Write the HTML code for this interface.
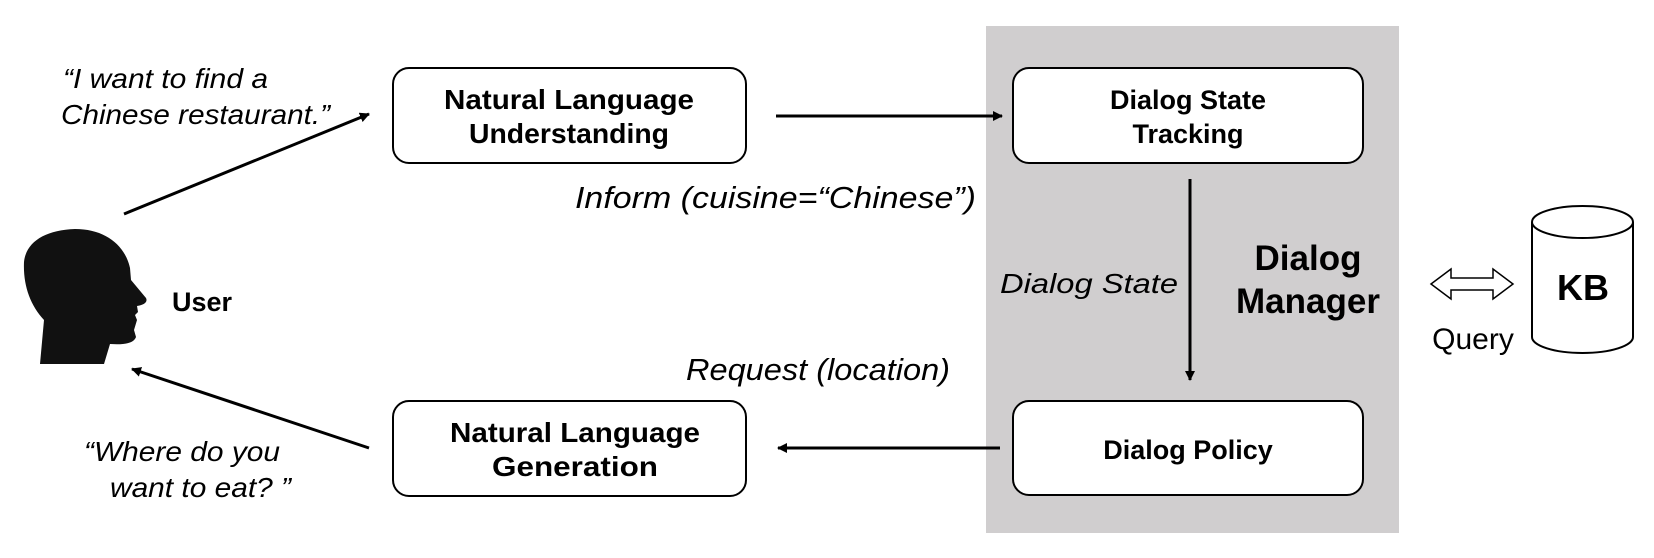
<!DOCTYPE html>
<html><head><meta charset="utf-8"><style>
html,body{margin:0;padding:0;background:#fff;}
svg{display:block;}
text{font-family:"Liberation Sans",Arial,sans-serif;fill:#000;}
.b{font-weight:bold;}
.i{font-style:italic;}
</style></head><body>
<svg width="1654" height="558" viewBox="0 0 1654 558" xmlns="http://www.w3.org/2000/svg">
<defs>
<marker id="ah" markerWidth="10" markerHeight="10" refX="9" refY="5" orient="auto" markerUnits="userSpaceOnUse">
<path d="M0,0 L10,5 L0,10 z" fill="#000"/>
</marker>
</defs>
<rect x="986" y="26" width="413" height="507" fill="#d0cecf"/>
<rect x="393" y="68" width="353" height="95" rx="16" fill="#fff" stroke="#000" stroke-width="2"/>
<rect x="393" y="401" width="353" height="95" rx="16" fill="#fff" stroke="#000" stroke-width="2"/>
<rect x="1013" y="68" width="350" height="95" rx="16" fill="#fff" stroke="#000" stroke-width="2"/>
<rect x="1013" y="401" width="350" height="94" rx="16" fill="#fff" stroke="#000" stroke-width="2"/>
<text class="b" x="569" y="109" font-size="28" text-anchor="middle" textLength="250" lengthAdjust="spacingAndGlyphs">Natural Language</text>
<text class="b" x="569" y="143" font-size="28" text-anchor="middle" textLength="200" lengthAdjust="spacingAndGlyphs">Understanding</text>
<text class="b" x="575" y="442" font-size="28" text-anchor="middle" textLength="250" lengthAdjust="spacingAndGlyphs">Natural Language</text>
<text class="b" x="575" y="476" font-size="28" text-anchor="middle" textLength="166" lengthAdjust="spacingAndGlyphs">Generation</text>
<text class="b" x="1188" y="109" font-size="27" text-anchor="middle">Dialog State</text>
<text class="b" x="1188" y="143" font-size="27" text-anchor="middle">Tracking</text>
<text class="b" x="1188" y="459" font-size="27" text-anchor="middle">Dialog Policy</text>
<text class="b" x="1308" y="270" font-size="35" text-anchor="middle">Dialog</text>
<text class="b" x="1308" y="313" font-size="35" text-anchor="middle">Manager</text>
<line x1="776" y1="116" x2="1002" y2="116" stroke="#000" stroke-width="3" marker-end="url(#ah)"/>
<line x1="1000" y1="448" x2="778" y2="448" stroke="#000" stroke-width="3" marker-end="url(#ah)"/>
<line x1="1190" y1="179" x2="1190" y2="380" stroke="#000" stroke-width="3" marker-end="url(#ah)"/>
<line x1="124" y1="214" x2="369" y2="114" stroke="#000" stroke-width="3" marker-end="url(#ah)"/>
<line x1="369" y1="448" x2="132" y2="369" stroke="#000" stroke-width="3" marker-end="url(#ah)"/>
<text class="i" x="575" y="208" font-size="31" textLength="401" lengthAdjust="spacingAndGlyphs">Inform (cuisine=“Chinese”)</text>
<text class="i" x="686" y="380" font-size="31" textLength="264" lengthAdjust="spacingAndGlyphs">Request (location)</text>
<text class="i" x="1000" y="293" font-size="28" textLength="178" lengthAdjust="spacingAndGlyphs">Dialog State</text>
<text class="i" x="63" y="88" font-size="28" textLength="205" lengthAdjust="spacingAndGlyphs">“I want to find a</text>
<text class="i" x="61" y="124" font-size="28" textLength="269" lengthAdjust="spacingAndGlyphs">Chinese restaurant.”</text>
<text class="i" x="84" y="461" font-size="28" textLength="196" lengthAdjust="spacingAndGlyphs">“Where do you</text>
<text class="i" x="110" y="497" font-size="28" textLength="181" lengthAdjust="spacingAndGlyphs">want to eat? ”</text>
<text class="b" x="172" y="311" font-size="27">User</text>
<path d="M40,364 L44,320 C30,305 23,285 24,262 C26,242 45,230 75,229 C105,229 125,245 130,268 L131,280 L146,298 C148,302 144,305 137,306 L138,312 L135,315 L137,320 L134,330 L136,337 C134,343 125,345 110,344 L104,364 Z" fill="#111"/>
<path d="M1431,284 L1451,269 L1451,278 L1493,278 L1493,269 L1513,284 L1493,299 L1493,290 L1451,290 L1451,299 Z" fill="#fff" stroke="#000" stroke-width="1.5"/>
<text x="1473" y="349" font-size="30" text-anchor="middle">Query</text>
<path d="M1532,222 L1532,337 A50.5,16 0 0 0 1633,337 L1633,222" fill="#fff" stroke="#000" stroke-width="2"/>
<ellipse cx="1582.5" cy="222" rx="50.5" ry="16" fill="#fff" stroke="#000" stroke-width="2"/>
<text class="b" x="1583" y="300" font-size="36" text-anchor="middle">KB</text>
</svg>
</body></html>
